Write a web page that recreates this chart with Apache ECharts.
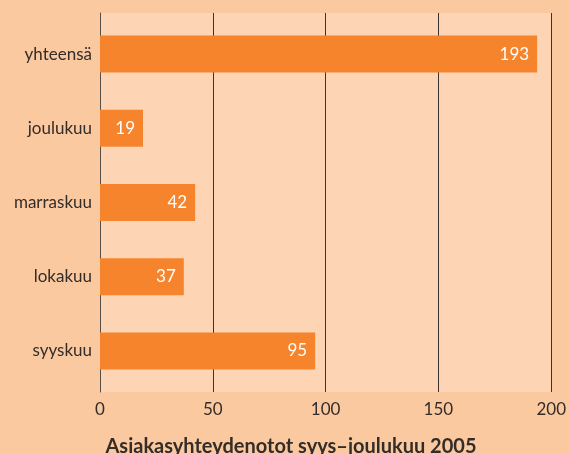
<!DOCTYPE html>
<html>
<head>
<meta charset="utf-8">
<script src="https://cdn.jsdelivr.net/npm/echarts@6/dist/echarts.min.js"></script>
<style>
  html, body { margin: 0; padding: 0; background: #fbc9a0; }
  #chart { width: 569px; height: 454px; }
</style>
</head>
<body>
<div id="chart"></div>
<script>
// data
var categories = ['syyskuu', 'lokakuu', 'marraskuu', 'joulukuu', 'yhteensä']
var values = [95, 37, 42, 19, 193]
var xTicks = [0, 50, 100, 150, 200]
var title = 'Asiakasyhteydenotot syys–joulukuu 2005'

var font = 'Lato, "Open Sans", sans-serif'
var textColor = '#332c28'

var chart = echarts.init(document.getElementById('chart'))
var option = {
  backgroundColor: '#fbc9a0',
  animation: false,
  title: {
    text: title,
    left: 286,
    textAlign: 'center',
    top: 432,
    textStyle: { fontFamily: font, fontWeight: 'bold', fontSize: 20, color: textColor }
  },
  grid: [
    // background + grid lines
    { left: 100, top: 13, width: 453, height: 379, show: true, backgroundColor: '#fdd5b5', borderWidth: 0 },
    // bars
    { left: 100, top: 17, width: 453, height: 371 }
  ],
  xAxis: [
    {
      gridIndex: 0,
      type: 'value',
      min: xTicks[0],
      max: xTicks[xTicks.length - 1],
      interval: 50,
      axisLine: { show: false },
      axisTick: { show: false },
      splitLine: { show: true, lineStyle: { color: '#3a3330', width: 1 } },
      axisLabel: { fontFamily: font, fontSize: 17, color: textColor, margin: 9 }
    },
    {
      gridIndex: 1,
      type: 'value',
      min: xTicks[0],
      max: xTicks[xTicks.length - 1],
      show: false
    }
  ],
  yAxis: [
    {
      gridIndex: 0,
      type: 'category',
      data: categories,
      show: true,
      axisLine: { show: true, lineStyle: { color: '#5a4e48', width: 1 } },
      axisTick: { show: false },
      axisLabel: { show: false }
    },
    {
      gridIndex: 1,
      type: 'category',
      data: categories,
      axisLine: { show: false },
      axisTick: { show: false },
      axisLabel: { fontFamily: font, fontSize: 17, color: textColor, margin: 8 }
    }
  ],
  series: [
    {
      type: 'bar',
      xAxisIndex: 1,
      yAxisIndex: 1,
      data: values,
      barWidth: 37,
      itemStyle: { color: '#f5842c' },
      label: {
        show: true,
        position: 'insideRight',
        distance: 8,
        color: '#ffffff',
        fontFamily: font,
        fontSize: 17
      }
    }
  ]
}
chart.setOption(option)
</script>
</body>
</html>
